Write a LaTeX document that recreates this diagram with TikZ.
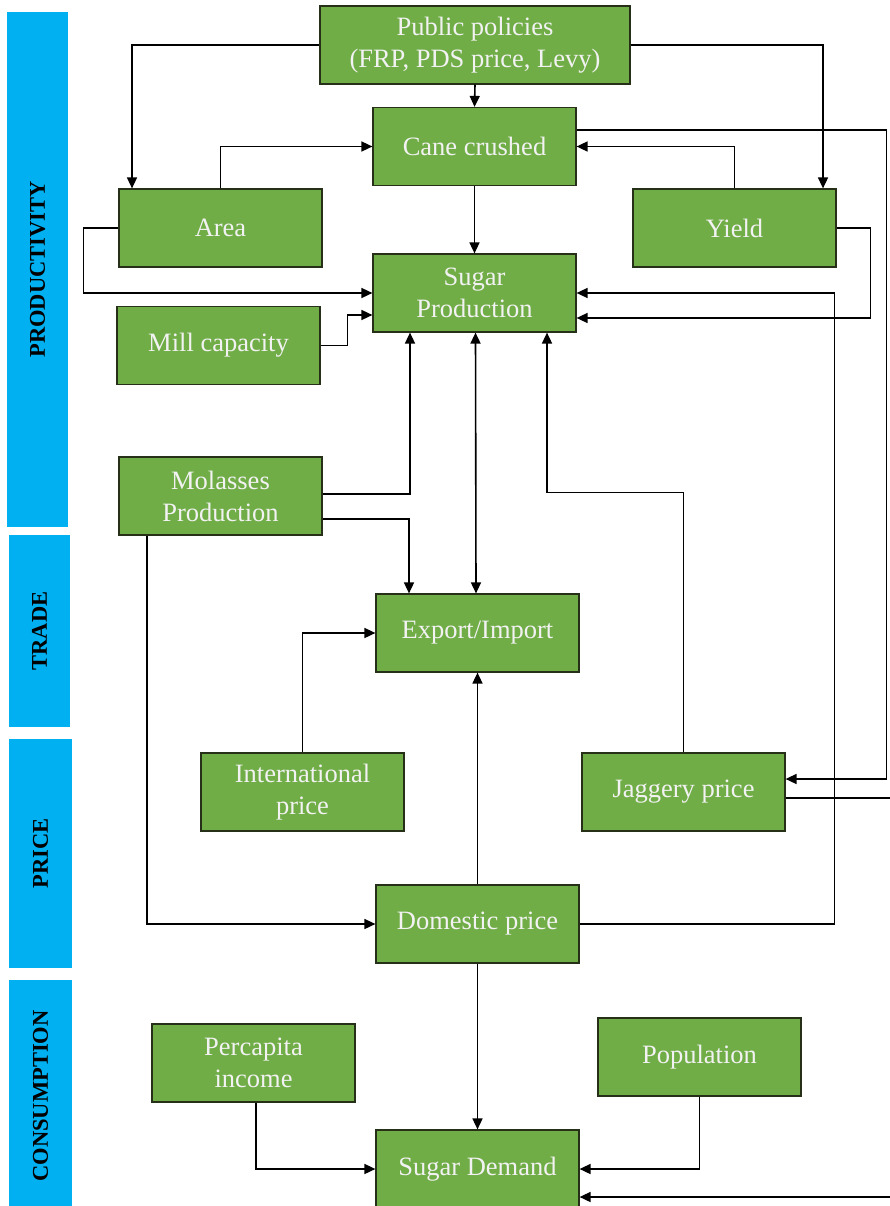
\documentclass[tikz,border=0pt]{standalone}
\usepackage{fontspec}
\setmainfont{Liberation Serif}
\usetikzlibrary{arrows.meta}
\definecolor{boxgreen}{HTML}{70AD47}
\definecolor{barblue}{HTML}{00B0F0}
\definecolor{boxline}{HTML}{263018}
\tikzset{
  box/.style={draw=boxline, line width=1.2pt, fill=boxgreen, text=white!95!black,
    minimum width=203pt, minimum height=78pt, inner sep=0pt, align=center,
    font=\fontsize{26.5pt}{32pt}\selectfont},
  sidebar/.style={fill=barblue, rotate=90, inner sep=0pt, text=black,
    font=\fontsize{22.5pt}{26pt}\selectfont\bfseries},
  arr/.style={line width=1.6pt, -{Triangle[length=11pt,width=10pt]}},
  darr/.style={line width=1.6pt, {Triangle[length=11pt,width=10pt]}-{Triangle[length=11pt,width=10pt]}},
  ln/.style={line width=1.6pt}
}
\begin{document}
\begin{tikzpicture}[x=1pt,y=-1pt]
\useasboundingbox (0,0) rectangle (889,1206);
\fill[white] (0,0) rectangle (889,1206);
% side bars
\node[sidebar, minimum width=515pt, minimum height=61pt] (bprod) at (37.5,269.5) {PRODUCTIVITY};
\node[sidebar, minimum width=192pt, minimum height=61pt] (btrade) at (39.5,631) {TRADE};
\node[sidebar, minimum width=229pt, minimum height=63pt] (bprice) at (40.5,853.5) {PRICE};
\node[sidebar, minimum width=232pt, minimum height=63pt] (bcons) at (40.5,1096) {CONSUMPTION};
% boxes
\node[box, minimum width=310pt] (pp) at (475,45) {Public policies\\(FRP, PDS price, Levy)};
\node[box] (cane) at (474.5,146.5) {Cane crushed};
\node[box] (area) at (220.5,228) {Area};
\node[box] (yield) at (734.5,228) {Yield};
\node[box] (sprod) at (474.5,293) {Sugar\\Production};
\node[box] (mill) at (218.5,345.5) {Mill capacity};
\node[box] (mol) at (220.5,496) {Molasses\\Production};
\node[box] (exim) at (477.5,633) {Export/Import};
\node[box] (intl) at (302.5,792) {International\\price};
\node[box] (jag) at (683.5,792) {Jaggery price};
\node[box] (dom) at (477.5,924) {Domestic price};
\node[box] (pci) at (253.5,1063) {Percapita\\income};
\node[box] (pop) at (699.5,1057) {Population};
\node[box] (sdem) at (477.5,1169) {Sugar Demand};
% connectors
\draw[arr] (pp.west) -| ([xshift=-88.5pt]area.north);
\draw[arr] (pp.east) -| ([xshift=88.5pt]yield.north);
\draw[arr] (pp.south) -- (cane.north);
\draw[arr] (area.north) |- (cane.west);
\draw[arr] (yield.north) |- (cane.east);
\draw[arr] (cane.south) -- (sprod.north);
\draw[arr] (area.west) -- ++(-35,0) |- (sprod.west);
\draw[arr] (mill.east) -- ++(27,0) |- ([yshift=-22pt]sprod.west);
\draw[arr] (yield.east) -- ++(34,0) |- ([yshift=-25pt]sprod.east);
\draw[arr] (dom.east) -- ++(255,0) |- (sprod.east);
\draw[arr] ([yshift=16.5pt]cane.east) -- ++(310,0) |- ([yshift=13pt]jag.east);
\draw[arr] ([yshift=-6pt]jag.east) -- ++(120,0) |- ([yshift=-28pt]sdem.east);
\draw[arr] ([yshift=2pt]mol.east) -| ([xshift=-64.5pt]sprod.south);
\draw[arr] ([yshift=-23pt]mol.east) -| ([xshift=-68.5pt]exim.north);
\draw[darr] ([xshift=1pt]sprod.south) -- ([xshift=-1.5pt]exim.north);
\draw[arr] (jag.north) -- ++(0,-260) -| ([xshift=72.5pt]sprod.south);
\draw[arr] (intl.north) |- (exim.west);
\draw[arr] (dom.north) -- (exim.south);
\draw[arr] ([xshift=-73.5pt]mol.south) |- (dom.west);
\draw[arr] (dom.south) -- (sdem.north);
\draw[arr] ([xshift=2.5pt]pci.south) |- (sdem.west);
\draw[arr] (pop.south) |- (sdem.east);
\end{tikzpicture}
\end{document}
